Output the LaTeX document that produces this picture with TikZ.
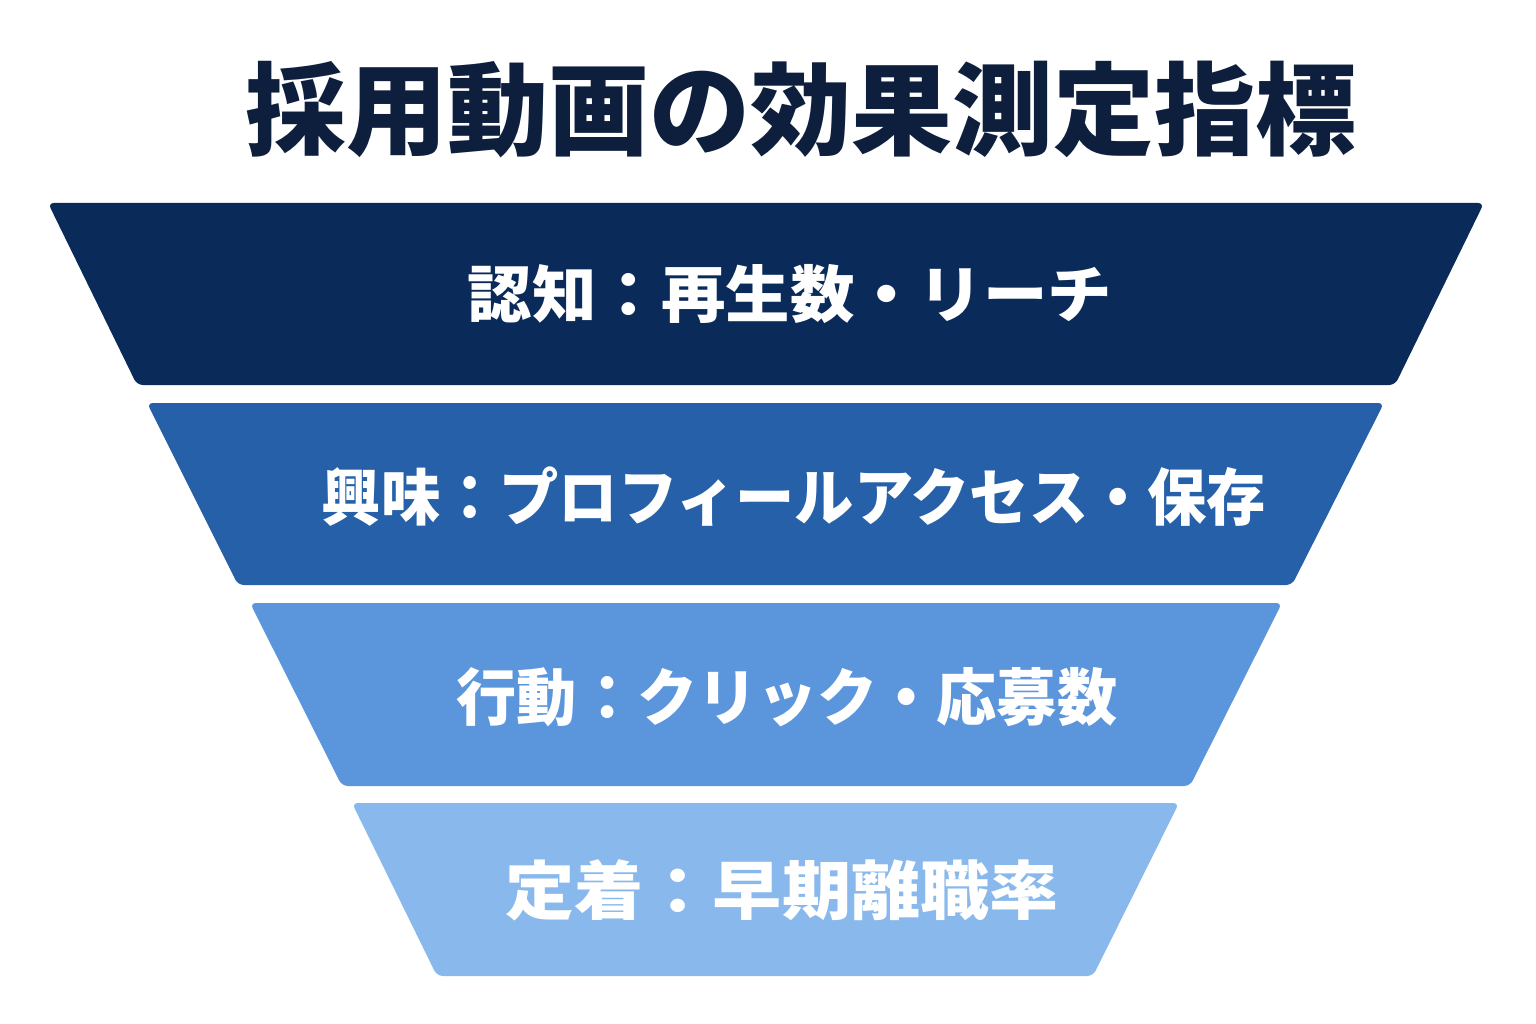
\documentclass[tikz,border=0pt]{standalone}
\usepackage{fontspec}
\newfontfamily\cjk{Noto Sans CJK JP}
\definecolor{titlecol}{HTML}{0D1F3D}
\definecolor{bandA}{HTML}{0A2A5A}
\definecolor{bandB}{HTML}{2560A8}
\definecolor{bandC}{HTML}{5B95DC}
\definecolor{bandD}{HTML}{89B9EC}
\begin{document}
\begin{tikzpicture}[x=1pt,y=-1pt,
  band/.style={rounded corners=6pt},
  bandtext/.style={text=white,font=\cjk\bfseries\fontsize{62}{62}\selectfont,inner sep=0pt,anchor=center}]
\useasboundingbox (0,0) rectangle (1536,1024);
\fill[white] (0,0) rectangle (1536,1024);
\node[text=titlecol,font=\cjk\bfseries\fontsize{101}{101}\selectfont,inner sep=0pt] (title) at (801,110) {採用動画の効果測定指標};
\fill[bandA,band] (48,203) -- (1484,203) -- (1395,385) -- (137,385) -- cycle;
\fill[bandB,band] (147,403) -- (1384,403) -- (1292,585) -- (238,585) -- cycle;
\fill[bandC,band] (250,603) -- (1282,603) -- (1190,786) -- (342,786) -- cycle;
\fill[bandD,band] (352,803) -- (1179,803) -- (1093,976) -- (437,976) -- cycle;
\node[bandtext] (t1) at (790,294) {\scalebox{1.04}[1]{認知：再生数・リーチ}};
\node[bandtext] (t2) at (794,497) {\scalebox{0.956}[1]{興味：プロフィールアクセス・保存}};
\node[bandtext] (t3) at (787,697) {\scalebox{0.97}[1]{行動：クリック・応募数}};
\node[bandtext,font=\cjk\bfseries\fontsize{64}{64}\selectfont] (t4) at (782,890) {\scalebox{1.08}[1]{定着：早期離職率}};
\end{tikzpicture}
\end{document}
